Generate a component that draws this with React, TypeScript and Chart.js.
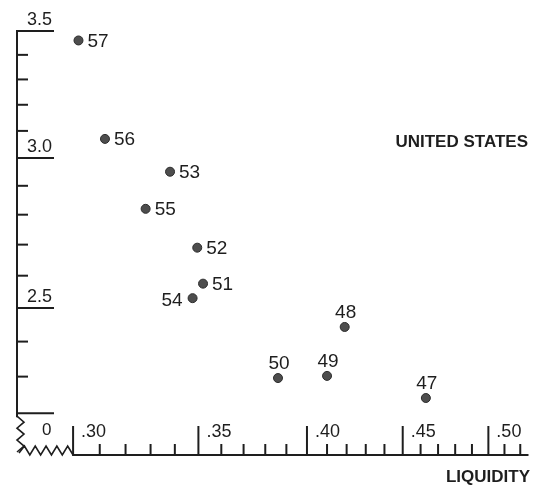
import React, { useEffect, useRef } from 'react';
import { Chart, registerables } from 'chart.js';
Chart.register(...registerables);

const years = ['57', '56', '53', '55', '52', '51', '54', '50', '49', '48', '47'];
const liquidity = [0.302, 0.312, 0.338, 0.328, 0.3495, 0.352, 0.3475, 0.386, 0.410, 0.419, 0.463];
const velocity = [3.46, 3.07, 2.95, 2.82, 2.69, 2.575, 2.53, 2.296, 2.302, 2.443, 2.241];
const labelSides = ['right', 'right', 'right', 'right', 'right', 'right', 'left', 'top', 'top', 'top', 'top'];

const yTickValues = [2.2, 2.3, 2.4, 2.5, 2.6, 2.7, 2.8, 2.9, 3.0, 3.1, 3.2, 3.3, 3.4, 3.5];
const yTickLabels = ['', '', '', '2.5', '', '', '', '', '3.0', '', '', '', '', '3.5'];
const xTickValues = [0.30, 0.31, 0.32, 0.33, 0.34, 0.35, 0.36, 0.37, 0.38, 0.39, 0.40, 0.41, 0.42, 0.43, 0.44, 0.45, 0.46, 0.47, 0.48, 0.49, 0.50, 0.51, 0.52];
const xTickLabels = ['.30', '', '', '', '', '.35', '', '', '', '', '.40', '', '', '', '', '.45', '', '', '', '', '.50', '', ''];
const breakLabel = '0';
const seriesTitle = 'UNITED STATES';
const xTitle = 'LIQUIDITY';

const INK = '#1e1e1e';
const FONT = '"Liberation Sans", Arial, sans-serif';

const axesPlugin = {
  id: 'handAxes',
  afterDraw(chart: any) {
    const { ctx, chartArea, scales } = chart;
    const xs = scales.x;
    const ys = scales.y;
    const left = chartArea.left;
    const bottom = chartArea.bottom;
    ctx.save();
    ctx.strokeStyle = INK;
    ctx.fillStyle = INK;
    ctx.lineWidth = 2;
    ctx.lineCap = 'butt';

    // y axis line
    const yTop = ys.getPixelForValue(yTickValues[yTickValues.length - 1]);
    const yLow = ys.getPixelForValue(yTickValues[0]);
    ctx.beginPath();
    ctx.moveTo(left, yTop - 1);
    ctx.lineTo(left, yLow + 4);
    ctx.stroke();

    // y ticks
    ctx.font = `18px ${FONT}`;
    ctx.textAlign = 'left';
    ctx.textBaseline = 'alphabetic';
    yTickValues.forEach((v, i) => {
      const py = ys.getPixelForValue(v);
      const lab = yTickLabels[i];
      const major = lab !== '' || i === 0;
      ctx.beginPath();
      ctx.moveTo(left, py);
      ctx.lineTo(left + (major ? 37 : 11), py);
      ctx.stroke();
      if (lab) ctx.fillText(lab, left + 10, py - 6);
    });

    // axis break zigzags
    const x30 = xs.getPixelForValue(xTickValues[0]);
    ctx.lineWidth = 1.6;
    ctx.beginPath();
    ctx.moveTo(left, yLow + 3);
    const vSteps = 6;
    for (let k = 1; k <= vSteps; k++) {
      const yy = yLow + 3 + ((bottom - 3 - (yLow + 3)) * k) / vSteps;
      ctx.lineTo(left + (k % 2 === 1 ? 7 : 0), yy);
    }
    ctx.stroke();
    ctx.beginPath();
    ctx.moveTo(left + 2, bottom - 2);
    const hSteps = 10;
    for (let k = 1; k <= hSteps; k++) {
      const xx = left + 2 + ((x30 - (left + 2)) * k) / hSteps;
      ctx.lineTo(xx, k % 2 === 1 ? bottom - 9 : bottom);
    }
    ctx.stroke();
    ctx.font = `17px ${FONT}`;
    ctx.fillText(breakLabel, left + 25, bottom - 20);

    // x axis line
    ctx.lineWidth = 2;
    ctx.beginPath();
    ctx.moveTo(x30 - 1, bottom);
    ctx.lineTo(chartArea.right, bottom);
    ctx.stroke();

    // x ticks
    ctx.font = `18px ${FONT}`;
    xTickValues.forEach((v, i) => {
      const px = xs.getPixelForValue(v);
      const lab = xTickLabels[i];
      ctx.beginPath();
      ctx.moveTo(px, bottom);
      ctx.lineTo(px, bottom - (lab ? 29 : 11));
      ctx.stroke();
      if (lab) ctx.fillText(lab, px + 8, bottom - 18);
    });

    // point labels
    const meta = chart.getDatasetMeta(0);
    ctx.font = `19px ${FONT}`;
    meta.data.forEach((pt: any, i: number) => {
      const side = labelSides[i];
      if (side === 'right') {
        ctx.textAlign = 'left';
        ctx.textBaseline = 'middle';
        ctx.fillText(years[i], pt.x + 9, pt.y + 1);
      } else if (side === 'left') {
        ctx.textAlign = 'right';
        ctx.textBaseline = 'middle';
        ctx.fillText(years[i], pt.x - 10, pt.y + 3);
      } else {
        ctx.textAlign = 'center';
        ctx.textBaseline = 'alphabetic';
        ctx.fillText(years[i], pt.x + 1, pt.y - 9);
      }
    });

    // titles
    ctx.font = `bold 17px ${FONT}`;
    ctx.textAlign = 'right';
    ctx.textBaseline = 'middle';
    ctx.fillText(seriesTitle, 528, 142);
    ctx.fillText(xTitle, 530, 477);
    ctx.restore();
  },
};

export default function App() {
  const ref = useRef<HTMLCanvasElement>(null);
  useEffect(() => {
    document.body.style.margin = '0';
    const canvas = ref.current!;
    const chart = new Chart(canvas, {
      type: 'scatter',
      data: {
        datasets: [
          {
            data: liquidity.map((x, i) => ({ x, y: velocity[i] })),
            backgroundColor: '#4d4d4d',
            borderColor: '#2c2c2c',
            borderWidth: 1,
            pointRadius: 4.5,
            clip: false as any,
          },
        ],
      },
      options: {
        responsive: false,
        animation: false,
        events: [],
        layout: { padding: { left: 17, top: 31, right: 0, bottom: 32 } },
        plugins: { legend: { display: false }, tooltip: { enabled: false } },
        scales: {
          x: { type: 'logarithmic', min: 0.2818, max: 0.5253, display: false },
          y: { type: 'logarithmic', min: 2.0911, max: 3.5, display: false },
        },
      },
      plugins: [axesPlugin],
    });
    return () => chart.destroy();
  }, []);
  return (
    <div style={{ width: 534, height: 487, background: '#fff' }}>
      <canvas ref={ref} width={534} height={487} style={{ display: 'block' }} />
    </div>
  );
}
